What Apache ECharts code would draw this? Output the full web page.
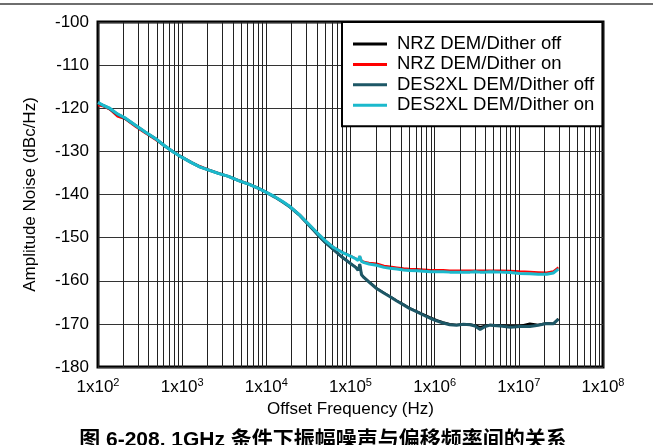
<!DOCTYPE html>
<html>
<head>
<meta charset="utf-8">
<script src="https://cdn.jsdelivr.net/npm/echarts@6/dist/echarts.min.js"></script>
<style>
html, body { margin: 0; padding: 0; background: #fff; }
#chart { width: 653px; height: 445px; }
</style>
</head>
<body>
<div id="chart"></div>
<script>
// offset frequency, Hz
var freqHz = [
  100, 117, 138, 170, 209, 275, 363, 479, 617, 794,
  1000, 1290, 1620, 2040, 2690, 3550, 4680, 6170, 7940, 10000,
  12600, 15800, 19100, 25100, 33100, 40700, 50100, 63100, 79400, 100000,
  115000, 123000, 129000, 135000, 145000, 166000, 204000, 251000, 295000, 355000,
  427000, 501000, 617000, 741000, 891000, 1050000, 1260000, 1510000, 1820000, 2190000,
  2630000, 3020000, 3470000, 3980000, 4570000, 6030000, 7940000, 10200000, 13500000, 17000000,
  21400000, 25700000, 29500000
];

var nrzOff = [
  -118.9, -119.5, -120.2, -121.5, -122.3, -124.0, -125.6, -127.1, -128.7, -130.2,
  -131.4, -132.6, -133.6, -134.3, -135.1, -135.8, -136.8, -137.6, -138.5, -139.5,
  -140.6, -141.8, -142.9, -144.9, -147.4, -149.4, -151.2, -152.9, -154.6, -156.0,
  -156.8, -157.5, -156.1, -158.5, -159.2, -160.2, -161.7, -162.8, -163.6, -164.6,
  -165.5, -166.3, -167.1, -167.8, -168.5, -169.1, -169.6, -170.0, -170.2, -170.0,
  -170.1, -170.3, -170.7, -170.4, -170.2, -170.3, -170.5, -170.5, -169.9, -170.2,
  -169.8, -169.9, -168.8
];

var nrzOn = [
  -119.3, -119.6, -120.3, -121.9, -122.5, -124.2, -125.8, -127.3, -128.8, -130.1,
  -131.3, -132.5, -133.4, -134.2, -135.0, -135.8, -136.7, -137.5, -138.4, -139.5,
  -140.5, -141.7, -142.7, -144.7, -147.1, -148.9, -150.6, -152.2, -153.3, -154.2,
  -154.8, -155.2, -154.3, -155.3, -155.6, -155.8, -156.0, -156.5, -156.7, -156.9,
  -157.1, -157.2, -157.3, -157.4, -157.5, -157.5, -157.5, -157.6, -157.6, -157.6,
  -157.6, -157.6, -157.6, -157.6, -157.6, -157.6, -157.7, -157.8, -157.9, -158.0,
  -158.1, -157.8, -156.9
];

var des2xlOff = [
  -118.8, -119.4, -120.1, -121.4, -122.3, -123.9, -125.5, -127.0, -128.7, -130.2,
  -131.4, -132.6, -133.6, -134.3, -135.1, -135.8, -136.8, -137.6, -138.5, -139.5,
  -140.6, -141.8, -142.9, -144.9, -147.4, -149.3, -151.1, -152.8, -154.5, -156.0,
  -156.9, -157.6, -156.2, -158.6, -159.3, -160.3, -161.8, -162.9, -163.7, -164.7,
  -165.6, -166.4, -167.2, -168.0, -168.7, -169.3, -169.8, -170.2, -170.3, -170.1,
  -170.2, -170.5, -171.3, -170.6, -170.3, -170.5, -170.8, -170.6, -170.6, -170.3,
  -169.9, -170.0, -168.9
];

var des2xlOn = [
  -118.6, -119.4, -120.0, -121.3, -122.2, -123.9, -125.5, -127.0, -128.7, -130.2,
  -131.4, -132.6, -133.6, -134.3, -135.1, -135.8, -136.8, -137.6, -138.5, -139.5,
  -140.5, -141.7, -142.8, -144.8, -147.2, -149.0, -150.7, -152.3, -153.4, -154.3,
  -154.9, -155.3, -154.3, -155.5, -155.8, -156.1, -156.4, -156.9, -157.1, -157.3,
  -157.5, -157.6, -157.7, -157.8, -157.9, -157.9, -157.9, -158.0, -158.0, -158.0,
  -158.0, -157.9, -158.0, -158.0, -157.9, -158.0, -158.1, -158.3, -158.4, -158.5,
  -158.5, -158.2, -157.3
];

var seriesNames = ['NRZ DEM/Dither off', 'NRZ DEM/Dither on', 'DES2XL DEM/Dither off', 'DES2XL DEM/Dither on'];
var seriesColors = ['#000000', '#ff0000', '#1d5766', '#1bb9cc'];
var seriesWidths = [2, 2, 3, 3];
var seriesValues = [nrzOff, nrzOn, des2xlOff, des2xlOn];

var xMin = 100, xMax = 1e8;
var yMin = -180, yMax = -100, yStep = 10;
var minorSteps = [2, 3, 4, 5, 6, 7, 8, 9];

var FONT = "'Liberation Sans', Arial, sans-serif";

// minor log grid lines (2..9 in every decade)
var minorFreqs = [];
for (var d = xMin; d < xMax; d *= 10) {
  minorSteps.forEach(function (m) { minorFreqs.push(d * m); });
}

function pairs(vals) {
  return freqHz.map(function (f, i) { return [f, vals[i]]; });
}

var series = [{
  type: 'line',
  name: 'minor',
  data: [],
  silent: true,
  z: 1,
  markLine: {
    silent: true,
    symbol: ['none', 'none'],
    animation: false,
    label: { show: false },
    lineStyle: { color: '#222', width: 1, type: 'solid' },
    emphasis: { disabled: true },
    data: minorFreqs.map(function (f) { return { xAxis: f }; })
  }
}];

seriesNames.forEach(function (name, i) {
  series.push({
    type: 'line',
    name: name,
    data: pairs(seriesValues[i]),
    symbol: 'none',
    showSymbol: false,
    z: 3 + i,
    lineStyle: { color: seriesColors[i], width: seriesWidths[i] },
    itemStyle: { color: seriesColors[i] },
    emphasis: { disabled: true },
    animation: false
  });
});

var chart = echarts.init(document.getElementById('chart'));
chart.setOption({
  backgroundColor: '#fff',
  animation: false,
  textStyle: { fontFamily: FONT },
  grid: {
    left: 98, top: 22, right: 50, bottom: 78,
    show: true, borderColor: '#000', borderWidth: 3, backgroundColor: 'transparent'
  },
  legend: {
    data: seriesNames,
    orient: 'vertical',
    left: 342,
    top: 22,
    z: 20,
    padding: [12, 8, 11, 11],
    icon: 'rect',
    itemWidth: 34,
    itemHeight: 3,
    itemGap: 0.4,
    backgroundColor: '#fff',
    borderColor: '#000',
    borderWidth: 2,
    borderRadius: 0,
    textStyle: { fontFamily: FONT, fontSize: 18.5, color: '#000', lineHeight: 20, padding: [0, 0, 0, 5] },
    selectedMode: false
  },
  xAxis: {
    type: 'log',
    logBase: 10,
    min: xMin,
    max: xMax,
    name: 'Offset Frequency (Hz)',
    nameLocation: 'middle',
    nameGap: 33,
    nameTextStyle: { fontFamily: FONT, fontSize: 17, color: '#000' },
    axisLine: { show: false },
    axisTick: { show: false },
    splitLine: { show: true, lineStyle: { color: '#222', width: 1 } },
    axisLabel: {
      margin: 10,
      color: '#000',
      formatter: function (v) {
        var e = Math.round(Math.log10(v));
        return '{b|1x10}{s|' + e + '}';
      },
      rich: {
        b: { fontFamily: FONT, fontSize: 17, color: '#000' },
        s: { fontFamily: FONT, fontSize: 11, color: '#000', padding: [0, 0, 9, 0] }
      }
    }
  },
  yAxis: {
    type: 'value',
    min: yMin,
    max: yMax,
    interval: yStep,
    name: 'Amplitude Noise (dBc/Hz)',
    nameLocation: 'middle',
    nameGap: 59,
    nameTextStyle: { fontFamily: FONT, fontSize: 17, color: '#000' },
    axisLine: { show: false },
    axisTick: { show: false },
    splitLine: { show: true, lineStyle: { color: '#333', width: 1 } },
    axisLabel: { fontFamily: FONT, fontSize: 17, color: '#000', margin: 9 }
  },
  graphic: [{
    type: 'line',
    shape: { x1: 0, y1: 4, x2: 653, y2: 4 },
    style: { stroke: '#6e6e6e', lineWidth: 2 },
    silent: true
  }, {
    type: 'text',
    x: 323,
    y: 440,
    style: {
      text: '图 6-208. 1GHz 条件下振幅噪声与偏移频率间的关系',
      font: "bold 21px 'Liberation Sans', 'Noto Sans CJK SC', sans-serif",
      fill: '#000',
      align: 'center',
      verticalAlign: 'middle'
    },
    silent: true
  }],
  series: series
});
</script>
</body>
</html>
